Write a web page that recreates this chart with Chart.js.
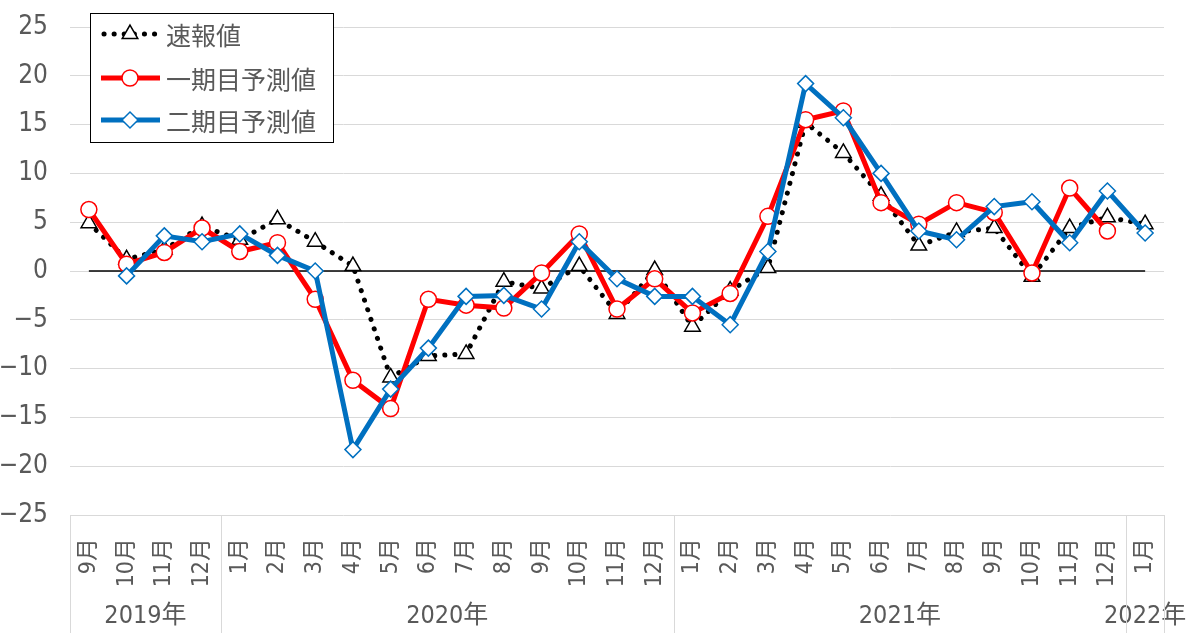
<!DOCTYPE html>
<html lang="ja">
<head>
<meta charset="utf-8">
<script src="https://cdn.jsdelivr.net/npm/chart.js@4"></script>
<style>
  body { margin: 0; background: #fff; }
  #wrap { width: 1186px; height: 633px; }
</style>
</head>
<body>
<div id="wrap"><canvas id="chart" width="1186" height="633"></canvas></div>
<script>
const months = [
  "9月", "10月", "11月", "12月",
  "1月", "2月", "3月", "4月", "5月", "6月", "7月", "8月", "9月", "10月", "11月", "12月",
  "1月", "2月", "3月", "4月", "5月", "6月", "7月", "8月", "9月", "10月", "11月", "12月",
  "1月",
];
const years = ["2019年", "2020年", "2021年", "2022年"];
const monthsPerYear = [4, 12, 12, 1];

const sokuhou = [4.9, 1.2, 2.2, 4.6, 3.2, 5.3, 3.0, 0.5, -10.9, -8.7, -8.5, -1.1, -1.8, 0.5, -4.4, 0.1,
  -5.7, -2.0, 0.3, 15.2, 12.1, 7.7, 2.6, 4.0, 4.4, -0.6, 4.4, 5.5, 4.8];
const ichiki = [6.3, 0.7, 1.9, 4.4, 2.0, 2.9, -2.9, -11.2, -14.1, -2.9, -3.5, -3.8, -0.2, 3.8, -3.9, -0.8,
  -4.3, -2.3, 5.6, 15.5, 16.4, 7.0, 4.8, 7.0, 6.0, -0.2, 8.5, 4.1, null];
const niki = [null, -0.5, 3.6, 3.0, 3.8, 1.6, 0.0, -18.3, -12.1, -7.9, -2.6, -2.5, -3.9, 3.0, -0.8, -2.6,
  -2.6, -5.5, 2.0, 19.2, 15.7, 10.0, 4.1, 3.2, 6.6, 7.1, 2.9, 8.2, 3.9];
const zeroLine = [0, 0, 0, 0, 0, 0, 0, 0, 0, 0, 0, 0, 0, 0, 0, 0, 0, 0, 0, 0, 0, 0, 0, 0, 0, 0, 0, 0, 0];

const NARROW = '"Liberation Sans Narrow", "DejaVu Sans Condensed", "Noto Sans CJK JP", sans-serif';
const CJK = '"Noto Sans CJK JP", sans-serif';
const GREY = "#595959";
const GRID = "#D9D9D9";

// year row + box lines under the month labels
const yearAxis = {
  id: "yearAxis",
  afterDraw(chart) {
    const { ctx, chartArea } = chart;
    const x = chart.scales.x;
    const top = chartArea.bottom;
    const bottom = chart.height;
    ctx.save();
    ctx.strokeStyle = GRID;
    ctx.lineWidth = 1;
    ctx.fillStyle = GREY;
    ctx.font = "25px " + NARROW;
    ctx.textAlign = "center";
    ctx.textBaseline = "middle";
    let start = 0;
    const edges = [x.getPixelForValue(-0.5)];
    years.forEach((y, i) => {
      const end = start + monthsPerYear[i];
      const left = x.getPixelForValue(start - 0.5);
      const right = x.getPixelForValue(end - 0.5);
      edges.push(right);
      ctx.fillText(y, (left + right) / 2, 616);
      start = end;
    });
    edges.forEach((px) => {
      const xx = Math.round(px) + 0.5;
      ctx.beginPath();
      ctx.moveTo(xx, top);
      ctx.lineTo(xx, bottom);
      ctx.stroke();
    });
    ctx.restore();
  },
};

// boxed legend in the upper left corner
const boxLegend = {
  id: "boxLegend",
  afterDraw(chart) {
    const { ctx } = chart;
    const items = chart.data.datasets.filter((d) => d.label);
    ctx.save();
    ctx.fillStyle = "#fff";
    ctx.fillRect(90, 13, 243, 129);
    ctx.strokeStyle = "#000";
    ctx.lineWidth = 1;
    ctx.strokeRect(90.5, 13.5, 243, 129);
    const rows = [34, 78, 120];
    items.forEach((d, i) => {
      const y = rows[i];
      ctx.save();
      ctx.strokeStyle = d.borderColor;
      ctx.lineWidth = d.borderWidth;
      ctx.lineCap = d.borderCapStyle || "butt";
      ctx.setLineDash(d.borderDash || []);
      ctx.beginPath();
      ctx.moveTo(d.borderDash ? 104 : 101, y);
      ctx.lineTo(160, y);
      ctx.stroke();
      ctx.restore();
      ctx.fillStyle = "#fff";
      ctx.strokeStyle = d.pointBorderColor;
      ctx.lineWidth = d.pointBorderWidth;
      Chart.helpers.drawPoint(ctx, {
        pointStyle: d.pointStyle,
        radius: d.pointRadius,
        rotation: 0,
        borderWidth: d.pointBorderWidth,
      }, 130, y);
      ctx.fillStyle = GREY;
      ctx.font = "25px " + CJK;
      ctx.textAlign = "left";
      ctx.textBaseline = "middle";
      ctx.fillText(d.label, 166, y + 1);
    });
    ctx.restore();
  },
};

new Chart(document.getElementById("chart"), {
  type: "line",
  data: {
    labels: months,
    datasets: [
      {
        label: "速報値",
        data: sokuhou,
        borderColor: "#000",
        borderWidth: 5,
        borderDash: [0.1, 10],
        borderCapStyle: "round",
        pointStyle: "triangle",
        pointRadius: 9,
        pointBackgroundColor: "#fff",
        pointBorderColor: "#000",
        pointBorderWidth: 1.5,
        order: 3,
      },
      {
        label: "一期目予測値",
        data: ichiki,
        borderColor: "#FF0000",
        borderWidth: 5,
        pointStyle: "circle",
        pointRadius: 8,
        pointBackgroundColor: "#fff",
        pointBorderColor: "#FF0000",
        pointBorderWidth: 1.5,
        order: 2,
      },
      {
        label: "二期目予測値",
        data: niki,
        borderColor: "#0070C0",
        borderWidth: 5,
        pointStyle: "rectRot",
        pointRadius: 8,
        pointBackgroundColor: "#fff",
        pointBorderColor: "#0070C0",
        pointBorderWidth: 1.5,
        order: 1,
      },
      {
        data: zeroLine,
        borderColor: "#000",
        borderWidth: 1.5,
        pointRadius: 0,
        order: 4,
      },
    ],
  },
  options: {
    responsive: false,
    animation: false,
    spanGaps: false,
    layout: { padding: { top: 27, right: 22, left: 0, bottom: 0 } },
    plugins: { legend: { display: false }, tooltip: { enabled: false } },
    scales: {
      x: {
        offset: true,
        grid: { display: false, drawTicks: false },
        border: { display: false },
        ticks: {
          autoSkip: false,
          minRotation: 90,
          maxRotation: 90,
          padding: 23,
          color: GREY,
          font: { family: NARROW, size: 23 },
        },
        afterFit(scale) {
          scale.height = 118;
          scale.paddingLeft = 0;
          scale.paddingRight = 0;
        },
      },
      y: {
        min: -25,
        max: 25,
        grid: { color: GRID, lineWidth: 1, drawTicks: false },
        border: { display: false },
        ticks: {
          stepSize: 5,
          padding: 22,
          color: GREY,
          font: { family: NARROW, size: 26 },
          callback: (v) => (v < 0 ? "\u2212" + Math.abs(v) : String(v)),
        },
        afterFit(scale) {
          scale.width = 70;
          scale.paddingTop = 0;
          scale.paddingBottom = 0;
        },
      },
    },
  },
  plugins: [yearAxis, boxLegend],
});
</script>
</body>
</html>
